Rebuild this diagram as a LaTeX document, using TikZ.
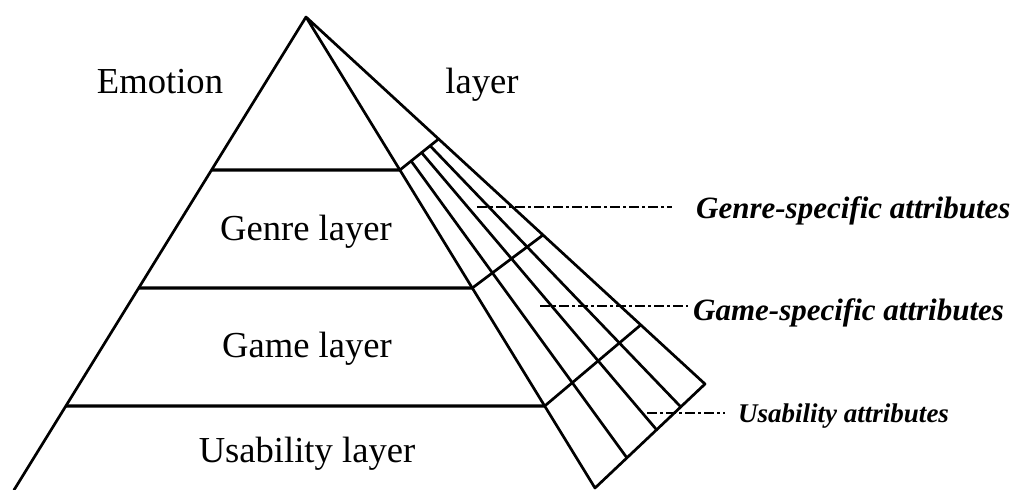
\documentclass[tikz,border=0pt]{standalone}
\usepackage{fontspec}
\setmainfont{Liberation Serif}
\usetikzlibrary{calc}
\begin{document}
\begin{tikzpicture}[x=1pt,y=-1pt,
  edge/.style={line width=2.7pt, line join=round, line cap=round},
  level/.style={line width=3.2pt},
  lbl/.style={font=\fontsize{36.6}{40}\selectfont, inner sep=0pt, anchor=base},
  attr/.style={font=\fontsize{31}{34}\selectfont\bfseries\itshape, inner sep=0pt, anchor=base west},
  leader/.style={line width=2.6pt, dash pattern=on 10pt off 3pt on 3pt off 3pt}]
\useasboundingbox (0,0) rectangle (1015,490);
% main points
\coordinate (A) at (306,17);
\coordinate (L) at (14,490);
\coordinate (I4) at (595,488);
\coordinate (O4) at (705,384);
% level line ends
\coordinate (L1) at ($(A)!0.3235!(L)$);
\coordinate (L2) at ($(A)!0.5729!(L)$);
\coordinate (L3) at ($(A)!0.8224!(L)$);
\coordinate (I1) at ($(A)!0.3248!(I4)$);
\coordinate (I2) at ($(A)!0.5754!(I4)$);
\coordinate (I3) at ($(A)!0.8259!(I4)$);
\coordinate (O1) at ($(A)!0.3324!(O4)$);
\coordinate (O2) at ($(A)!0.594!(O4)$);
\coordinate (O3) at ($(A)!0.839!(O4)$);
% pyramid and fan outline
\draw[edge] (L) -- (A) -- (I4) -- (O4) -- (A);
% layer lines
\draw[level] (L1) -- (I1);
\draw[level] (L2) -- (I2);
\draw[level] (L3) -- (I3);
% fan cross lines
\draw[edge] (I1) -- (O1);
\draw[edge] (I2) -- (O2);
\draw[edge] (I3) -- (O3);
% fan radial lines
\foreach \s in {0.29,0.56,0.78}
  \draw[edge] ($(I1)!\s!(O1)$) -- ($(I4)!\s!(O4)$);
% labels
\node[lbl] (emo) at (160,93) {Emotion};
\node[lbl] (emolayer) at (482,93) {layer};
\node[lbl] (genre) at (306,240) {Genre layer};
\node[lbl] (game) at (307,357) {Game layer};
\node[lbl] (usab) at (307,462) {Usability layer};
\node[attr] (ga) at (696,218) {Genre-specific attributes};
\node[attr] (gsa) at (693,320) {Game-specific attributes};
\node[attr, font=\fontsize{27}{30}\selectfont\bfseries\itshape] (ua) at (738,422) {Usability attributes};
% leaders
\coordinate (g1) at (477,207);
\coordinate (g2) at (540,306);
\coordinate (g3) at (647,413);
\draw[leader, shorten >=24pt] (g1) -- (g1 -| ga.west);
\draw[leader, shorten >=5pt] (g2) -- (g2 -| gsa.west);
\draw[leader, shorten >=13pt] (g3) -- (g3 -| ua.west);
\end{tikzpicture}
\end{document}
